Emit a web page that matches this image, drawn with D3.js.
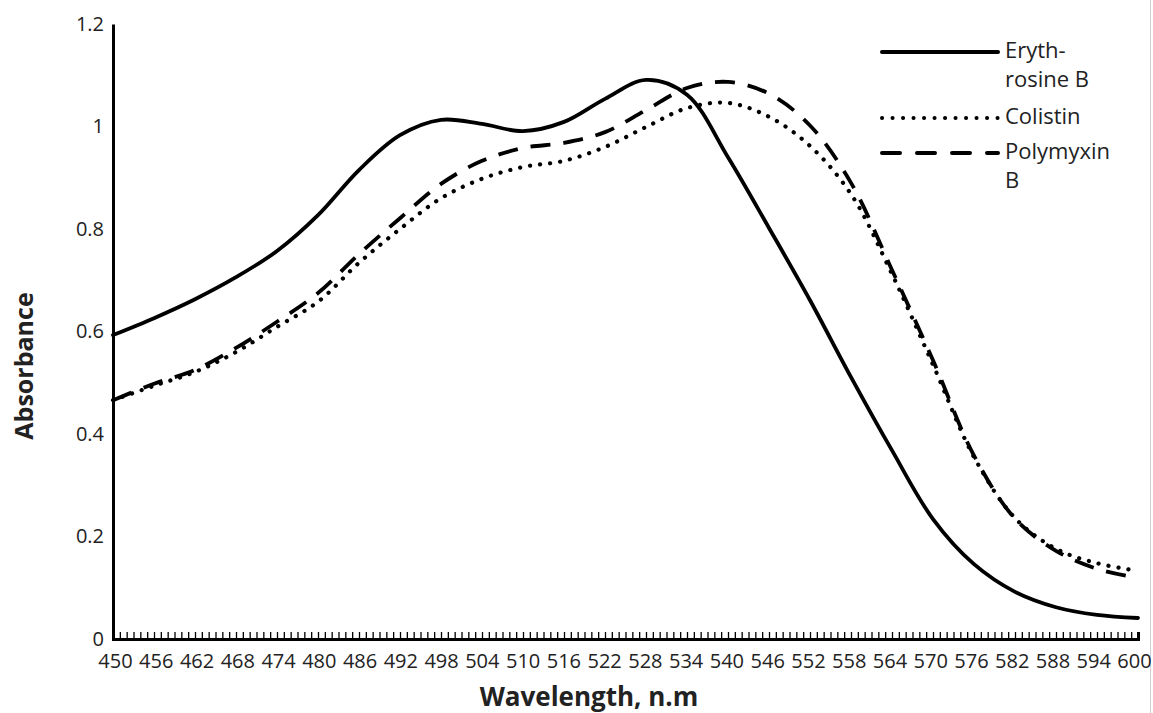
<!DOCTYPE html>
<html>
<head>
<meta charset="utf-8">
<script src="https://cdn.jsdelivr.net/npm/d3@7"></script>
<style>
  body { margin: 0; background: #fff; }
  #chart { width: 1153px; height: 713px; }
  text { font-family: "Open Sans", "Liberation Sans", sans-serif; fill: #222; }
</style>
</head>
<body>
<div id="chart"></div>
<script>
// wavelengths (nm), sampled every 6 nm
const wavelengths = [450, 456, 462, 468, 474, 480, 486, 492, 498, 504, 510, 516, 522,
  528, 534, 540, 546, 552, 558, 564, 570, 576, 582, 588, 594, 600];

const erythrosine = [0.593, 0.626, 0.663, 0.706, 0.757, 0.827, 0.915, 0.983, 1.013, 1.005,
  0.991, 1.009, 1.054, 1.091, 1.062, 0.940, 0.802, 0.661, 0.511, 0.368, 0.234, 0.146,
  0.092, 0.062, 0.047, 0.041];

const colistin = [0.466, 0.494, 0.521, 0.560, 0.609, 0.658, 0.734, 0.800, 0.860, 0.898,
  0.921, 0.933, 0.960, 0.999, 1.036, 1.046, 1.019, 0.962, 0.868, 0.712, 0.535, 0.355,
  0.236, 0.176, 0.148, 0.133];

const polymyxin = [0.466, 0.498, 0.525, 0.568, 0.619, 0.675, 0.751, 0.821, 0.888, 0.933,
  0.958, 0.968, 0.989, 1.032, 1.075, 1.087, 1.064, 1.002, 0.890, 0.720, 0.544, 0.358,
  0.235, 0.172, 0.137, 0.119];

const yTicks = [0, 0.2, 0.4, 0.6, 0.8, 1, 1.2];

const series = [
  { name: ["Eryth-", "rosine B"], values: erythrosine, dash: null, legendDash: null, cap: "round" },
  { name: ["Colistin"], values: colistin, dash: "0.1 10", legendDash: "0.1 10.4", cap: "round" },
  { name: ["Polymyxin", "B"], values: polymyxin, dash: "20 13", legendDash: "18 17", cap: "butt" },
];

const W = 1153, H = 713;
const margin = { top: 24, right: 15, bottom: 74, left: 113 };
const width = W - margin.left - margin.right;
const height = H - margin.top - margin.bottom;

const svg = d3.select("#chart").append("svg")
  .attr("width", W).attr("height", H);

// faint right border of the original figure
svg.append("line")
  .attr("x1", 1150.5).attr("x2", 1150.5).attr("y1", 0).attr("y2", H)
  .attr("stroke", "#d0d0d0").attr("stroke-width", 1);

const g = svg.append("g")
  .attr("transform", `translate(${margin.left},${margin.top})`);

const x = d3.scaleLinear().domain([450, 600]).range([0, width]);
const y = d3.scaleLinear().domain([0, 1.2]).range([height, 0]);

// curves
const line = d3.line()
  .x((d, i) => x(wavelengths[i]))
  .y(d => y(d))
  .curve(d3.curveCatmullRom.alpha(0.5));

series.forEach(s => {
  g.append("path")
    .datum(s.values)
    .attr("fill", "none")
    .attr("stroke", "#000")
    .attr("stroke-width", s.dash === "0.1 10" ? 4.2 : 3.8)
    .attr("stroke-linecap", s.cap)
    .attr("stroke-dasharray", s.dash)
    .attr("d", line);
});

// x axis: minor ticks every nm, labels every 6 nm
const xAxis = g.append("g")
  .attr("transform", `translate(0,${height})`)
  .call(d3.axisBottom(x)
    .tickValues(d3.range(450, 601, 1))
    .tickSize(-7)
    .tickPadding(15)
    .tickFormat(d => (d - 450) % 6 === 0 ? d : ""));
xAxis.select(".domain").attr("stroke", "#000").attr("stroke-width", 3);
xAxis.selectAll(".tick line").attr("stroke", "#000").attr("stroke-width", 1.3);
// labels sit slightly inward in the original
xAxis.selectAll("text").style("font-size", "20px").attr("fill", "#222")
  .attr("dx", d => 2 - 6 * (d - 450) / 150);

// y axis: labels only
const yAxis = g.append("g")
  .call(d3.axisLeft(y).tickValues(yTicks).tickSize(0).tickPadding(9)
    .tickFormat(d => d3.format("")(d)));
yAxis.select(".domain").attr("stroke", "#000").attr("stroke-width", 3);
yAxis.selectAll("text").style("font-size", "20px").attr("fill", "#222");

// axis titles
svg.append("text")
  .attr("x", 589)
  .attr("y", 706)
  .attr("text-anchor", "middle")
  .style("font-size", "26px")
  .style("font-weight", "bold")
  .text("Wavelength, n.m");

svg.append("text")
  .attr("transform", "translate(33,366) rotate(-90)")
  .attr("text-anchor", "middle")
  .style("font-size", "25px")
  .style("font-weight", "bold")
  .text("Absorbance");

// legend
const legendY = [52, 118, 153];
const legend = svg.append("g").attr("transform", "translate(880,0)");
series.forEach((s, i) => {
  legend.append("line")
    .attr("x1", 2).attr("x2", 118)
    .attr("y1", legendY[i]).attr("y2", legendY[i])
    .attr("stroke", "#000")
    .attr("stroke-width", 4)
    .attr("stroke-linecap", "round")
    .attr("stroke-dasharray", s.legendDash);
  s.name.forEach((t, j) => {
    legend.append("text")
      .attr("x", 125)
      .attr("y", legendY[i] + 6 + j * 29)
      .style("font-size", "22px")
      .text(t);
  });
});
</script>
</body>
</html>
